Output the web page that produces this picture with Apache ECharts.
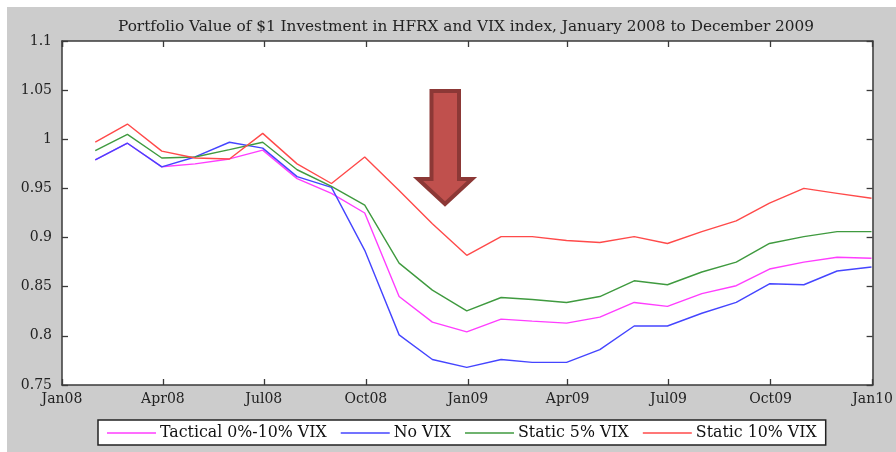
<!DOCTYPE html>
<html>
<head>
<meta charset="utf-8">
<script src="https://cdn.jsdelivr.net/npm/echarts@6/dist/echarts.min.js"></script>
<style>
	html,body{margin:0;padding:0;background:#fff;}
	#chart{width:896px;height:452px;}
</style>
</head>
<body>
<div id="chart"></div>
<script>
	// month-end dates
	var dates = ['2008-01-31','2008-02-29','2008-03-31','2008-04-30','2008-05-31','2008-06-30',
		'2008-07-31','2008-08-31','2008-09-30','2008-10-31','2008-11-30','2008-12-31',
		'2009-01-31','2009-02-28','2009-03-31','2009-04-30','2009-05-31','2009-06-30',
		'2009-07-31','2009-08-31','2009-09-30','2009-10-31','2009-11-30','2009-12-31'];
	var tactical = [0.979,0.996,0.972,0.975,0.980,0.989,0.960,0.945,0.925,0.840,0.814,0.804,
		0.817,0.815,0.813,0.819,0.834,0.830,0.843,0.851,0.868,0.875,0.880,0.879];
	var noVix = [0.979,0.996,0.972,0.982,0.997,0.991,0.962,0.951,0.887,0.801,0.776,0.768,
		0.776,0.773,0.773,0.786,0.810,0.810,0.823,0.834,0.853,0.852,0.866,0.870];
	var static5 = [0.9885,1.005,0.981,0.982,0.9895,0.997,0.969,0.952,0.933,0.874,0.8465,0.8255,
		0.839,0.837,0.834,0.840,0.856,0.852,0.865,0.875,0.894,0.901,0.906,0.906];
	var static10 = [0.997,1.0155,0.988,0.981,0.980,1.006,0.975,0.955,0.982,0.948,0.914,0.882,
		0.901,0.901,0.897,0.895,0.901,0.894,0.906,0.917,0.935,0.950,0.945,0.940];
	var seriesNames = ['Tactical 0%-10% VIX','No VIX','Static 5% VIX','Static 10% VIX'];
	var seriesColors = ['#ff3dff','#4545ff','#3f9a3f','#ff4a4a'];
	var seriesValues = [tactical,noVix,static5,static10];
	var monthNames = ['Jan','Feb','Mar','Apr','May','Jun','Jul','Aug','Sep','Oct','Nov','Dec'];

	var font = 'DejaVu Serif';
	var axisColor = '#3a3a3a';

	function pairs(vals){
		return vals.map(function(v,i){return [dates[i],v]});
	}
	function xLabel(value){
		var d = new Date(value);
		var yy = String(d.getFullYear()).slice(2);
		return monthNames[d.getMonth()] + yy;
	}
	var day = 24*3600*1000;
	function timeAxis(pos,showLabel){
		return {
			type:'time',
			position:pos,
			min:'2008-01-01',
			max:'2010-01-01',
			splitNumber:8,
			minInterval:89*day,
			maxInterval:92*day,
			axisLine:{show:true,onZero:false,lineStyle:{color:axisColor,width:1.5}},
			axisTick:{show:true,inside:true,length:6,lineStyle:{color:axisColor,width:1.3}},
			axisLabel:{show:showLabel,formatter:xLabel,margin:7,color:'#222',
				fontFamily:font,fontSize:14,showMinLabel:true,showMaxLabel:true},
			splitLine:{show:false}
		}
	}
	function valueAxis(pos,showLabel){
		return {
			type:'value',
			position:pos,
			min:0.75,
			max:1.1,
			interval:0.05,
			axisLine:{show:true,lineStyle:{color:axisColor,width:1.5}},
			axisTick:{show:true,inside:true,length:6,lineStyle:{color:axisColor,width:1.3}},
			axisLabel:{show:showLabel,margin:10,color:'#222',fontFamily:font,fontSize:14},
			splitLine:{show:false}
		}
	}

	var series = seriesValues.map(function(vals,i){
		return {
			name:seriesNames[i],
			type:'line',
			data:pairs(vals),
			symbol:'none',
			xAxisIndex:0,
			yAxisIndex:0,
			lineStyle:{color:seriesColors[i],width:1.4},
			itemStyle:{color:seriesColors[i]},
			z:2+i
		}
	});

	var chart = echarts.init(document.getElementById('chart'),null,{renderer:'canvas'});
	chart.setOption({
		animation:false,
		backgroundColor:'#cccccc',
		title:{
			text:'Portfolio Value of $1 Investment in HFRX and VIX index, January 2008 to December 2009',
			left:461,
			textAlign:'center',
			top:15,
			textStyle:{fontFamily:font,fontSize:15.3,fontWeight:'normal',color:'#222'}
		},
		grid:{left:62,right:23,top:41,bottom:67,show:true,backgroundColor:'#ffffff',borderWidth:0},
		xAxis:[timeAxis('bottom',true),timeAxis('top',false)],
		yAxis:[valueAxis('left',true),valueAxis('right',false)],
		legend:{
			left:98,
			top:420,
			orient:'horizontal',
			data:seriesNames,
			icon:'rect',
			itemWidth:49,
			itemHeight:1.3,
			itemGap:14,
			padding:[5,9,4,9],
			backgroundColor:'#ffffff',
			borderColor:'#222',
			borderWidth:1.5,
			borderRadius:0,
			textStyle:{fontFamily:font,fontSize:15.8,color:'#111',padding:[0,0,0,-1]}
		},
		graphic:[
			{type:'rect',shape:{x:0,y:0,width:896,height:7},style:{fill:'#ffffff'},silent:true},
			{type:'rect',shape:{x:0,y:0,width:7,height:452},style:{fill:'#ffffff'},silent:true},
			{
				type:'polygon',
				z:100,
				shape:{points:[[431.5,91],[459,91],[459,179],[472,179],[445,204],[418,179],[431.5,179]]},
				style:{fill:'#c0504d',stroke:'#8c3836',lineWidth:4,lineJoin:'miter'}
			}
		],
		series:series
	});
</script>
</body>
</html>
